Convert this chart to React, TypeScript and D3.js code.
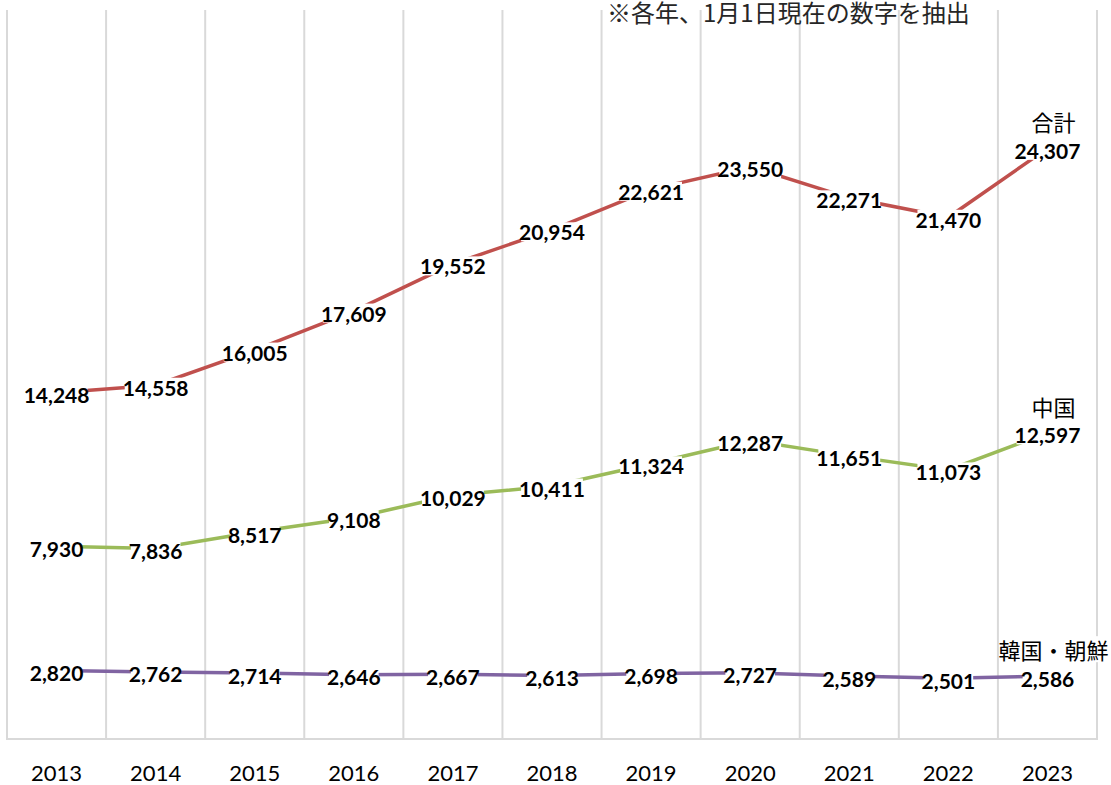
import React, { useEffect, useRef } from 'react';
import * as d3 from 'd3';

const years = ['2013', '2014', '2015', '2016', '2017', '2018', '2019', '2020', '2021', '2022', '2023'];
const totalValues = [14248, 14558, 16005, 17609, 19552, 20954, 22621, 23550, 22271, 21470, 24307];
const chinaValues = [7930, 7836, 8517, 9108, 10029, 10411, 11324, 12287, 11651, 11073, 12597];
const koreaValues = [2820, 2762, 2714, 2646, 2667, 2613, 2698, 2727, 2589, 2501, 2586];
const seriesNames = ['合計', '中国', '韓国・朝鮮'];
const seriesColors = ['#C0504D', '#9BBB59', '#8064A2'];
const noteText = '※各年、1月1日現在の数字を抽出';

const W = 1111;
const H = 785;

export default function App() {
  const ref = useRef<SVGSVGElement | null>(null);

  useEffect(() => {
    const svg = d3.select(ref.current);
    svg.selectAll('*').remove();

    const x = d3.scaleBand<string>().domain(years).range([7, 1097]).padding(0);
    const y = d3.scaleLinear().domain([0, 30000]).range([739, 10]);
    const bw = x.bandwidth();
    const cx = (yr: string) => (x(yr) as number) + bw / 2;

    const grid = svg.append('g');
    const bounds = years.map((yr) => x(yr) as number).concat([x.range()[1]]);
    grid.selectAll('line.v')
      .data(bounds)
      .join('line')
      .attr('x1', (d) => d).attr('x2', (d) => d)
      .attr('y1', y.range()[1]).attr('y2', y.range()[0])
      .attr('stroke', '#D9D9D9').attr('stroke-width', 2);
    grid.append('line')
      .attr('x1', x.range()[0] - 1).attr('x2', x.range()[1] + 1)
      .attr('y1', y(0)).attr('y2', y(0))
      .attr('stroke', '#D9D9D9').attr('stroke-width', 2);

    svg.append('text')
      .attr('x', 607).attr('y', 22)
      .attr('font-family', '"Noto Sans CJK JP", sans-serif')
      .attr('font-size', 24)
      .attr('fill', '#262626')
      .text(noteText);

    svg.append('g').selectAll('text')
      .data(years)
      .join('text')
      .attr('x', (d) => cx(d)).attr('y', 772)
      .attr('text-anchor', 'middle').attr('dominant-baseline', 'central')
      .attr('font-family', 'Lato, "Noto Sans", sans-serif')
      .attr('font-size', 22)
      .attr('fill', '#000')
      .text((d) => d);

    const series = [totalValues, chinaValues, koreaValues];
    const line = d3.line<number>()
      .x((_, i) => cx(years[i]))
      .y((d) => y(d));

    series.forEach((vals, si) => {
      svg.append('path')
        .attr('d', line(vals) as string)
        .attr('fill', 'none')
        .attr('stroke', seriesColors[si])
        .attr('stroke-width', 3.5);
    });

    const labelsG = svg.append('g');
    const addLabel = (px: number, py: number, txt: string, bold: boolean, cjk: boolean) => {
      const g = labelsG.append('g');
      const rect = g.append('rect').attr('fill', '#fff');
      const t = g.append('text')
        .attr('x', px).attr('y', py)
        .attr('text-anchor', 'middle').attr('dominant-baseline', 'central')
        .attr('font-family', cjk ? '"Noto Sans CJK JP", sans-serif' : 'Lato, "Noto Sans", sans-serif')
        .attr('font-size', cjk ? 22 : 21)
        .attr('font-weight', bold ? 700 : 400)
        .attr('fill', '#000')
        .text(txt);
      const bb = (t.node() as SVGTextElement).getBBox();
      rect.attr('x', bb.x + 2).attr('y', bb.y + 3)
        .attr('width', Math.max(0, bb.width - 4)).attr('height', Math.max(0, bb.height - 6));
    };

    series.forEach((vals, si) => {
      vals.forEach((v, i) => {
        addLabel(cx(years[i]), y(v) + 2, d3.format(',')(v), true, false);
      });
      const last = vals.length - 1;
      addLabel(cx(years[last]) + 6, y(vals[last]) - 27, seriesNames[si], false, true);
    });
  }, []);

  return (
    <svg
      ref={ref}
      width={W}
      height={H}
      style={{ position: 'absolute', left: 0, top: 0, background: '#fff' }}
    />
  );
}
